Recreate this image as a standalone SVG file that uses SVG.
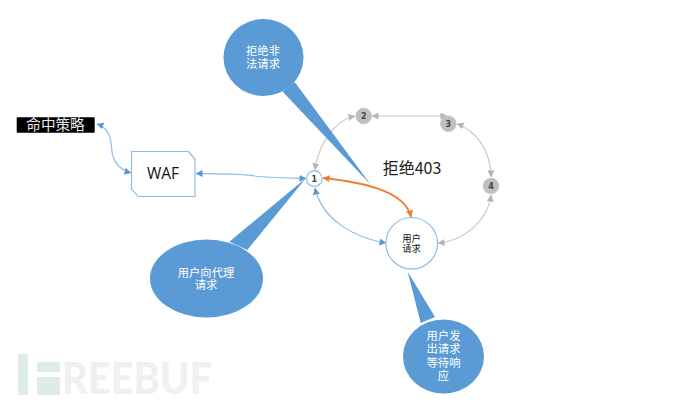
<svg xmlns="http://www.w3.org/2000/svg" width="690" height="403" viewBox="0 0 690 403">
<style>
text{font-family:"Noto Sans CJK SC","Noto Sans",sans-serif;text-anchor:middle}
.call{fill:#5b9bd5}
.ct{fill:#fff;font-size:11.3px}
.c{fill:none;stroke-width:1.2}
.b{stroke:#8dbce6}
.g{stroke:#c8c8c8}
.o{stroke:#ed7d31;stroke-width:1.8}
.n{fill:#fff;stroke:#8dbce6;stroke-width:1.2}
.ng{fill:#bfbfbf;stroke:#c9c9c9;stroke-width:1}
.num{font-family:"DejaVu Sans",sans-serif;font-size:8px;font-weight:700;fill:#444}
.wm{fill:#dfece6}
</style>
<defs>
<marker id="mb" viewBox="0 0 8 8" refX="7.5" refY="4" markerWidth="7" markerHeight="7" markerUnits="userSpaceOnUse" orient="auto-start-reverse"><path d="M0,0L8,4L0,8z" fill="#5b9bd5"/></marker>
<marker id="mg" viewBox="0 0 8 8" refX="7.5" refY="4" markerWidth="7" markerHeight="7" markerUnits="userSpaceOnUse" orient="auto-start-reverse"><path d="M0,0L8,4L0,8z" fill="#b5b5b5"/></marker>
<marker id="mo" viewBox="0 0 8 8" refX="7.5" refY="4" markerWidth="7" markerHeight="7" markerUnits="userSpaceOnUse" orient="auto-start-reverse"><path d="M0,0L8,4L0,8z" fill="#ed7d31"/></marker>
</defs>
<g id="watermark">
<rect class="wm" x="18" y="354" width="10" height="41"/>
<rect class="wm" x="37" y="362" width="23" height="10"/>
<rect class="wm" x="37" y="377" width="23" height="18"/>
<text x="62" y="394" textLength="150" lengthAdjust="spacingAndGlyphs" style="font-family:Lato,sans-serif;font-weight:900;font-size:43px;text-anchor:start;fill:#f0f0f0">REEBUF</text>
</g>
<g id="connectors">
<path class="c b" marker-start="url(#mb)" marker-end="url(#mb)" d="M97,124C115,130 110,150 113,156C116,167 124,171 131,173"/>
<path class="c b" marker-start="url(#mb)" marker-end="url(#mb)" d="M196,173.5C225,174 245,174 255,176C270,178 290,178 306,178.5"/>
<path class="c g" marker-start="url(#mg)" marker-end="url(#mg)" d="M315,170C318,145 335,120 355,116"/>
<path class="c g" marker-start="url(#mg)" marker-end="url(#mg)" d="M372,116L447,116"/>
<path class="c g" marker-start="url(#mg)" marker-end="url(#mg)" d="M457,124C475,130 491,150 491,177"/>
<path class="c g" marker-start="url(#mg)" marker-end="url(#mg)" d="M491,195C488,220 465,241 438,243"/>
<path class="c b" marker-start="url(#mb)" marker-end="url(#mb)" d="M315,188C322,220 355,238 386,243"/>
</g>
<g id="callout-reject">
<path class="call" d="M294.7,82L371,185L282.7,91.7Z"/>
<ellipse class="call" cx="263.5" cy="57.5" rx="40" ry="38.5"/>
<text class="ct" x="263" y="54.6"><tspan x="263">拒绝非</tspan><tspan x="263" dy="13.3">法请求</tspan></text>
</g>
<g id="callout-proxy">
<path class="call" d="M229.3,241.7L306,178L247.3,250Z"/>
<ellipse class="call" cx="206.5" cy="278.5" rx="56.5" ry="39"/>
<text class="ct" x="206" y="276.6"><tspan x="206">用户向代理</tspan><tspan x="206" dy="12.3">请求</tspan></text>
</g>
<g id="callout-wait">
<path class="call" d="M420.7,323L407.7,271.7L435,317Z"/>
<ellipse class="call" cx="443.5" cy="356.5" rx="40.5" ry="37"/>
<text class="ct" x="443.5" y="340"><tspan x="443.5">用户发</tspan><tspan x="443.5" dy="13.3">出请求</tspan><tspan x="443.5" dy="13.3">等待响</tspan><tspan x="443.5" dy="13.3">应</tspan></text>
</g>
<path class="c o" marker-start="url(#mo)" marker-end="url(#mo)" d="M323,178C360,182 405,190 411,217"/>
<g id="strategy">
<rect x="16.7" y="117.3" width="78" height="15.4" rx="1" fill="#000"/>
<text x="55.5" y="129.5" style="font-size:14.6px;fill:#e8e8e8">命中策略</text>
</g>
<g id="waf">
<path d="M131.5,151.5H188.3L195,159V196.5H138.3L131.5,189.3Z" fill="#fff" stroke="#8dbce6" stroke-width="1.2"/>
<text x="163" y="179" style="font-family:'Open Sans',sans-serif;font-size:15.5px;fill:#111">WAF</text>
</g>
<g id="node-1"><circle class="n" cx="314.3" cy="178.7" r="7.8"/><text class="num" x="314.3" y="181.6">1</text></g>
<g id="node-2"><circle class="ng" cx="363.7" cy="116" r="7.8"/><text class="num" x="363.7" y="118.9">2</text></g>
<g id="node-3"><circle class="ng" cx="448.3" cy="123.7" r="7.8"/><text class="num" x="448.3" y="126.6">3</text></g>
<g id="node-4"><circle class="ng" cx="491" cy="186" r="7.8"/><text class="num" x="491" y="188.9">4</text></g>
<g id="node-user">
<circle class="n" cx="411.7" cy="243.3" r="25.8"/>
<text x="411.5" y="242.3" style="font-size:9.3px;fill:#111"><tspan x="411.5">用户</tspan><tspan x="411.5" dy="10">请求</tspan></text>
</g>
<text x="412" y="173.5" style="font-size:16px;fill:#222">拒绝403</text>
</svg>
